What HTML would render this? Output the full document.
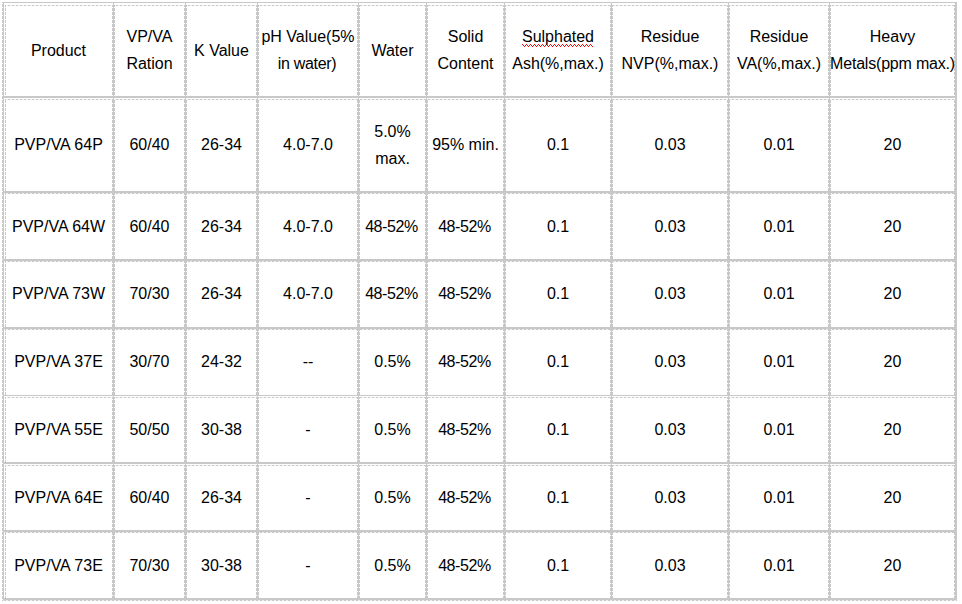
<!DOCTYPE html>
<html><head><meta charset="utf-8"><style>
html,body{margin:0;padding:0;background:#fff;}
body{width:962px;height:604px;position:relative;overflow:hidden;font-family:"Liberation Sans",sans-serif;font-size:16px;color:#000;}
.s{position:absolute;background:#c8c8c8;}
.dh{position:absolute;background:linear-gradient(90deg,#c8c8c8 0 2px,#eeeeee 2px 4px);background-size:4px 1px;background-position:-1px 0;}
.dv{position:absolute;background:linear-gradient(180deg,#c8c8c8 0 3px,transparent 3px 4px);background-size:1px 4px;background-position:0 -2px;}
.c{position:absolute;display:flex;align-items:center;justify-content:center;text-align:center;line-height:27px;white-space:nowrap;}
.sq{position:relative;}
.sq svg{position:absolute;left:0;top:0;}
</style></head><body>
<div class="dh" style="left:5px;top:5px;width:950px;height:1px"></div>
<div class="dh" style="left:5px;top:99px;width:950px;height:1px"></div>
<div class="dh" style="left:5px;top:193px;width:950px;height:1px"></div>
<div class="dh" style="left:5px;top:261px;width:950px;height:1px"></div>
<div class="dh" style="left:5px;top:329px;width:950px;height:1px"></div>
<div class="dh" style="left:5px;top:397px;width:950px;height:1px"></div>
<div class="dh" style="left:5px;top:465px;width:950px;height:1px"></div>
<div class="dh" style="left:5px;top:532px;width:950px;height:1px"></div>
<div class="dh" style="left:2px;top:600px;width:955px;height:1px;background-position:-2px 0"></div>
<div class="dv" style="left:5px;top:5px;width:1px;height:91px;background-position:0 3px"></div>
<div class="dv" style="left:112px;top:5px;width:1px;height:91px;background-position:0 3px"></div>
<div class="dv" style="left:114px;top:5px;width:1px;height:91px;background-position:0 3px"></div>
<div class="dv" style="left:184px;top:5px;width:1px;height:91px;background-position:0 3px"></div>
<div class="dv" style="left:186px;top:5px;width:1px;height:91px;background-position:0 3px"></div>
<div class="dv" style="left:256px;top:5px;width:1px;height:91px;background-position:0 3px"></div>
<div class="dv" style="left:258px;top:5px;width:1px;height:91px;background-position:0 3px"></div>
<div class="dv" style="left:357px;top:5px;width:1px;height:91px;background-position:0 3px"></div>
<div class="dv" style="left:359px;top:5px;width:1px;height:91px;background-position:0 3px"></div>
<div class="dv" style="left:425px;top:5px;width:1px;height:91px;background-position:0 3px"></div>
<div class="dv" style="left:427px;top:5px;width:1px;height:91px;background-position:0 3px"></div>
<div class="dv" style="left:503px;top:5px;width:1px;height:91px;background-position:0 3px"></div>
<div class="dv" style="left:505px;top:5px;width:1px;height:91px;background-position:0 3px"></div>
<div class="dv" style="left:610px;top:5px;width:1px;height:91px;background-position:0 3px"></div>
<div class="dv" style="left:612px;top:5px;width:1px;height:91px;background-position:0 3px"></div>
<div class="dv" style="left:727px;top:5px;width:1px;height:91px;background-position:0 3px"></div>
<div class="dv" style="left:729px;top:5px;width:1px;height:91px;background-position:0 3px"></div>
<div class="dv" style="left:828px;top:5px;width:1px;height:91px;background-position:0 3px"></div>
<div class="dv" style="left:830px;top:5px;width:1px;height:91px;background-position:0 3px"></div>
<div class="dv" style="left:954px;top:5px;width:1px;height:91px;background-position:0 3px"></div>
<div class="dv" style="left:5px;top:99px;width:1px;height:92px;background-position:0 1px"></div>
<div class="dv" style="left:112px;top:99px;width:1px;height:92px;background-position:0 1px"></div>
<div class="dv" style="left:114px;top:99px;width:1px;height:92px;background-position:0 1px"></div>
<div class="dv" style="left:184px;top:99px;width:1px;height:92px;background-position:0 1px"></div>
<div class="dv" style="left:186px;top:99px;width:1px;height:92px;background-position:0 1px"></div>
<div class="dv" style="left:256px;top:99px;width:1px;height:92px;background-position:0 1px"></div>
<div class="dv" style="left:258px;top:99px;width:1px;height:92px;background-position:0 1px"></div>
<div class="dv" style="left:357px;top:99px;width:1px;height:92px;background-position:0 1px"></div>
<div class="dv" style="left:359px;top:99px;width:1px;height:92px;background-position:0 1px"></div>
<div class="dv" style="left:425px;top:99px;width:1px;height:92px;background-position:0 1px"></div>
<div class="dv" style="left:427px;top:99px;width:1px;height:92px;background-position:0 1px"></div>
<div class="dv" style="left:503px;top:99px;width:1px;height:92px;background-position:0 1px"></div>
<div class="dv" style="left:505px;top:99px;width:1px;height:92px;background-position:0 1px"></div>
<div class="dv" style="left:610px;top:99px;width:1px;height:92px;background-position:0 1px"></div>
<div class="dv" style="left:612px;top:99px;width:1px;height:92px;background-position:0 1px"></div>
<div class="dv" style="left:727px;top:99px;width:1px;height:92px;background-position:0 1px"></div>
<div class="dv" style="left:729px;top:99px;width:1px;height:92px;background-position:0 1px"></div>
<div class="dv" style="left:828px;top:99px;width:1px;height:92px;background-position:0 1px"></div>
<div class="dv" style="left:830px;top:99px;width:1px;height:92px;background-position:0 1px"></div>
<div class="dv" style="left:954px;top:99px;width:1px;height:92px;background-position:0 1px"></div>
<div class="dv" style="left:5px;top:193px;width:1px;height:66px;background-position:0 3px"></div>
<div class="dv" style="left:112px;top:193px;width:1px;height:66px;background-position:0 3px"></div>
<div class="dv" style="left:114px;top:193px;width:1px;height:66px;background-position:0 3px"></div>
<div class="dv" style="left:184px;top:193px;width:1px;height:66px;background-position:0 3px"></div>
<div class="dv" style="left:186px;top:193px;width:1px;height:66px;background-position:0 3px"></div>
<div class="dv" style="left:256px;top:193px;width:1px;height:66px;background-position:0 3px"></div>
<div class="dv" style="left:258px;top:193px;width:1px;height:66px;background-position:0 3px"></div>
<div class="dv" style="left:357px;top:193px;width:1px;height:66px;background-position:0 3px"></div>
<div class="dv" style="left:359px;top:193px;width:1px;height:66px;background-position:0 3px"></div>
<div class="dv" style="left:425px;top:193px;width:1px;height:66px;background-position:0 3px"></div>
<div class="dv" style="left:427px;top:193px;width:1px;height:66px;background-position:0 3px"></div>
<div class="dv" style="left:503px;top:193px;width:1px;height:66px;background-position:0 3px"></div>
<div class="dv" style="left:505px;top:193px;width:1px;height:66px;background-position:0 3px"></div>
<div class="dv" style="left:610px;top:193px;width:1px;height:66px;background-position:0 3px"></div>
<div class="dv" style="left:612px;top:193px;width:1px;height:66px;background-position:0 3px"></div>
<div class="dv" style="left:727px;top:193px;width:1px;height:66px;background-position:0 3px"></div>
<div class="dv" style="left:729px;top:193px;width:1px;height:66px;background-position:0 3px"></div>
<div class="dv" style="left:828px;top:193px;width:1px;height:66px;background-position:0 3px"></div>
<div class="dv" style="left:830px;top:193px;width:1px;height:66px;background-position:0 3px"></div>
<div class="dv" style="left:954px;top:193px;width:1px;height:66px;background-position:0 3px"></div>
<div class="dv" style="left:5px;top:261px;width:1px;height:66px;background-position:0 3px"></div>
<div class="dv" style="left:112px;top:261px;width:1px;height:66px;background-position:0 3px"></div>
<div class="dv" style="left:114px;top:261px;width:1px;height:66px;background-position:0 3px"></div>
<div class="dv" style="left:184px;top:261px;width:1px;height:66px;background-position:0 3px"></div>
<div class="dv" style="left:186px;top:261px;width:1px;height:66px;background-position:0 3px"></div>
<div class="dv" style="left:256px;top:261px;width:1px;height:66px;background-position:0 3px"></div>
<div class="dv" style="left:258px;top:261px;width:1px;height:66px;background-position:0 3px"></div>
<div class="dv" style="left:357px;top:261px;width:1px;height:66px;background-position:0 3px"></div>
<div class="dv" style="left:359px;top:261px;width:1px;height:66px;background-position:0 3px"></div>
<div class="dv" style="left:425px;top:261px;width:1px;height:66px;background-position:0 3px"></div>
<div class="dv" style="left:427px;top:261px;width:1px;height:66px;background-position:0 3px"></div>
<div class="dv" style="left:503px;top:261px;width:1px;height:66px;background-position:0 3px"></div>
<div class="dv" style="left:505px;top:261px;width:1px;height:66px;background-position:0 3px"></div>
<div class="dv" style="left:610px;top:261px;width:1px;height:66px;background-position:0 3px"></div>
<div class="dv" style="left:612px;top:261px;width:1px;height:66px;background-position:0 3px"></div>
<div class="dv" style="left:727px;top:261px;width:1px;height:66px;background-position:0 3px"></div>
<div class="dv" style="left:729px;top:261px;width:1px;height:66px;background-position:0 3px"></div>
<div class="dv" style="left:828px;top:261px;width:1px;height:66px;background-position:0 3px"></div>
<div class="dv" style="left:830px;top:261px;width:1px;height:66px;background-position:0 3px"></div>
<div class="dv" style="left:954px;top:261px;width:1px;height:66px;background-position:0 3px"></div>
<div class="dv" style="left:5px;top:329px;width:1px;height:66px;background-position:0 3px"></div>
<div class="dv" style="left:112px;top:329px;width:1px;height:66px;background-position:0 3px"></div>
<div class="dv" style="left:114px;top:329px;width:1px;height:66px;background-position:0 3px"></div>
<div class="dv" style="left:184px;top:329px;width:1px;height:66px;background-position:0 3px"></div>
<div class="dv" style="left:186px;top:329px;width:1px;height:66px;background-position:0 3px"></div>
<div class="dv" style="left:256px;top:329px;width:1px;height:66px;background-position:0 3px"></div>
<div class="dv" style="left:258px;top:329px;width:1px;height:66px;background-position:0 3px"></div>
<div class="dv" style="left:357px;top:329px;width:1px;height:66px;background-position:0 3px"></div>
<div class="dv" style="left:359px;top:329px;width:1px;height:66px;background-position:0 3px"></div>
<div class="dv" style="left:425px;top:329px;width:1px;height:66px;background-position:0 3px"></div>
<div class="dv" style="left:427px;top:329px;width:1px;height:66px;background-position:0 3px"></div>
<div class="dv" style="left:503px;top:329px;width:1px;height:66px;background-position:0 3px"></div>
<div class="dv" style="left:505px;top:329px;width:1px;height:66px;background-position:0 3px"></div>
<div class="dv" style="left:610px;top:329px;width:1px;height:66px;background-position:0 3px"></div>
<div class="dv" style="left:612px;top:329px;width:1px;height:66px;background-position:0 3px"></div>
<div class="dv" style="left:727px;top:329px;width:1px;height:66px;background-position:0 3px"></div>
<div class="dv" style="left:729px;top:329px;width:1px;height:66px;background-position:0 3px"></div>
<div class="dv" style="left:828px;top:329px;width:1px;height:66px;background-position:0 3px"></div>
<div class="dv" style="left:830px;top:329px;width:1px;height:66px;background-position:0 3px"></div>
<div class="dv" style="left:954px;top:329px;width:1px;height:66px;background-position:0 3px"></div>
<div class="dv" style="left:5px;top:397px;width:1px;height:65px;background-position:0 3px"></div>
<div class="dv" style="left:112px;top:397px;width:1px;height:65px;background-position:0 3px"></div>
<div class="dv" style="left:114px;top:397px;width:1px;height:65px;background-position:0 3px"></div>
<div class="dv" style="left:184px;top:397px;width:1px;height:65px;background-position:0 3px"></div>
<div class="dv" style="left:186px;top:397px;width:1px;height:65px;background-position:0 3px"></div>
<div class="dv" style="left:256px;top:397px;width:1px;height:65px;background-position:0 3px"></div>
<div class="dv" style="left:258px;top:397px;width:1px;height:65px;background-position:0 3px"></div>
<div class="dv" style="left:357px;top:397px;width:1px;height:65px;background-position:0 3px"></div>
<div class="dv" style="left:359px;top:397px;width:1px;height:65px;background-position:0 3px"></div>
<div class="dv" style="left:425px;top:397px;width:1px;height:65px;background-position:0 3px"></div>
<div class="dv" style="left:427px;top:397px;width:1px;height:65px;background-position:0 3px"></div>
<div class="dv" style="left:503px;top:397px;width:1px;height:65px;background-position:0 3px"></div>
<div class="dv" style="left:505px;top:397px;width:1px;height:65px;background-position:0 3px"></div>
<div class="dv" style="left:610px;top:397px;width:1px;height:65px;background-position:0 3px"></div>
<div class="dv" style="left:612px;top:397px;width:1px;height:65px;background-position:0 3px"></div>
<div class="dv" style="left:727px;top:397px;width:1px;height:65px;background-position:0 3px"></div>
<div class="dv" style="left:729px;top:397px;width:1px;height:65px;background-position:0 3px"></div>
<div class="dv" style="left:828px;top:397px;width:1px;height:65px;background-position:0 3px"></div>
<div class="dv" style="left:830px;top:397px;width:1px;height:65px;background-position:0 3px"></div>
<div class="dv" style="left:954px;top:397px;width:1px;height:65px;background-position:0 3px"></div>
<div class="dv" style="left:5px;top:465px;width:1px;height:65px;background-position:0 3px"></div>
<div class="dv" style="left:112px;top:465px;width:1px;height:65px;background-position:0 3px"></div>
<div class="dv" style="left:114px;top:465px;width:1px;height:65px;background-position:0 3px"></div>
<div class="dv" style="left:184px;top:465px;width:1px;height:65px;background-position:0 3px"></div>
<div class="dv" style="left:186px;top:465px;width:1px;height:65px;background-position:0 3px"></div>
<div class="dv" style="left:256px;top:465px;width:1px;height:65px;background-position:0 3px"></div>
<div class="dv" style="left:258px;top:465px;width:1px;height:65px;background-position:0 3px"></div>
<div class="dv" style="left:357px;top:465px;width:1px;height:65px;background-position:0 3px"></div>
<div class="dv" style="left:359px;top:465px;width:1px;height:65px;background-position:0 3px"></div>
<div class="dv" style="left:425px;top:465px;width:1px;height:65px;background-position:0 3px"></div>
<div class="dv" style="left:427px;top:465px;width:1px;height:65px;background-position:0 3px"></div>
<div class="dv" style="left:503px;top:465px;width:1px;height:65px;background-position:0 3px"></div>
<div class="dv" style="left:505px;top:465px;width:1px;height:65px;background-position:0 3px"></div>
<div class="dv" style="left:610px;top:465px;width:1px;height:65px;background-position:0 3px"></div>
<div class="dv" style="left:612px;top:465px;width:1px;height:65px;background-position:0 3px"></div>
<div class="dv" style="left:727px;top:465px;width:1px;height:65px;background-position:0 3px"></div>
<div class="dv" style="left:729px;top:465px;width:1px;height:65px;background-position:0 3px"></div>
<div class="dv" style="left:828px;top:465px;width:1px;height:65px;background-position:0 3px"></div>
<div class="dv" style="left:830px;top:465px;width:1px;height:65px;background-position:0 3px"></div>
<div class="dv" style="left:954px;top:465px;width:1px;height:65px;background-position:0 3px"></div>
<div class="dv" style="left:5px;top:532px;width:1px;height:66px;background-position:0 0px"></div>
<div class="dv" style="left:112px;top:532px;width:1px;height:66px;background-position:0 0px"></div>
<div class="dv" style="left:114px;top:532px;width:1px;height:66px;background-position:0 0px"></div>
<div class="dv" style="left:184px;top:532px;width:1px;height:66px;background-position:0 0px"></div>
<div class="dv" style="left:186px;top:532px;width:1px;height:66px;background-position:0 0px"></div>
<div class="dv" style="left:256px;top:532px;width:1px;height:66px;background-position:0 0px"></div>
<div class="dv" style="left:258px;top:532px;width:1px;height:66px;background-position:0 0px"></div>
<div class="dv" style="left:357px;top:532px;width:1px;height:66px;background-position:0 0px"></div>
<div class="dv" style="left:359px;top:532px;width:1px;height:66px;background-position:0 0px"></div>
<div class="dv" style="left:425px;top:532px;width:1px;height:66px;background-position:0 0px"></div>
<div class="dv" style="left:427px;top:532px;width:1px;height:66px;background-position:0 0px"></div>
<div class="dv" style="left:503px;top:532px;width:1px;height:66px;background-position:0 0px"></div>
<div class="dv" style="left:505px;top:532px;width:1px;height:66px;background-position:0 0px"></div>
<div class="dv" style="left:610px;top:532px;width:1px;height:66px;background-position:0 0px"></div>
<div class="dv" style="left:612px;top:532px;width:1px;height:66px;background-position:0 0px"></div>
<div class="dv" style="left:727px;top:532px;width:1px;height:66px;background-position:0 0px"></div>
<div class="dv" style="left:729px;top:532px;width:1px;height:66px;background-position:0 0px"></div>
<div class="dv" style="left:828px;top:532px;width:1px;height:66px;background-position:0 0px"></div>
<div class="dv" style="left:830px;top:532px;width:1px;height:66px;background-position:0 0px"></div>
<div class="dv" style="left:954px;top:532px;width:1px;height:66px;background-position:0 0px"></div>
<div class="dv" style="left:2px;top:4px;width:1px;height:597px;background-position:0 0"></div>
<div class="s" style="left:2px;top:2px;width:955px;height:1px"></div>
<div class="s" style="left:3px;top:96px;width:954px;height:2px"></div>
<div class="s" style="left:3px;top:191px;width:954px;height:2px"></div>
<div class="s" style="left:3px;top:259px;width:954px;height:2px"></div>
<div class="s" style="left:3px;top:327px;width:954px;height:2px"></div>
<div class="s" style="left:3px;top:395px;width:954px;height:1px"></div>
<div class="s" style="left:3px;top:462px;width:954px;height:2px"></div>
<div class="s" style="left:3px;top:530px;width:954px;height:2px"></div>
<div class="s" style="left:3px;top:598px;width:954px;height:2px"></div>
<div class="s" style="left:3px;top:2px;width:1px;height:598px"></div>
<div class="s" style="left:113px;top:2px;width:1px;height:598px"></div>
<div class="s" style="left:185px;top:2px;width:1px;height:598px"></div>
<div class="s" style="left:257px;top:2px;width:1px;height:598px"></div>
<div class="s" style="left:358px;top:2px;width:1px;height:598px"></div>
<div class="s" style="left:426px;top:2px;width:1px;height:598px"></div>
<div class="s" style="left:504px;top:2px;width:1px;height:598px"></div>
<div class="s" style="left:611px;top:2px;width:1px;height:598px"></div>
<div class="s" style="left:728px;top:2px;width:1px;height:598px"></div>
<div class="s" style="left:829px;top:2px;width:1px;height:598px"></div>
<div class="s" style="left:955px;top:2px;width:2px;height:598px"></div>
<svg style="position:absolute;left:522px;top:44px" width="71" height="3" viewBox="0 0 71 3" shape-rendering="crispEdges"><path fill="#ff0000" d="M0 0h1v1h-1zM1 1h1v1h-1zM2 2h1v1h-1zM3 1h1v1h-1zM4 0h1v1h-1zM5 1h1v1h-1zM6 2h1v1h-1zM7 1h1v1h-1zM8 0h1v1h-1zM9 1h1v1h-1zM10 2h1v1h-1zM11 1h1v1h-1zM12 0h1v1h-1zM13 1h1v1h-1zM14 2h1v1h-1zM15 1h1v1h-1zM16 0h1v1h-1zM17 1h1v1h-1zM18 2h1v1h-1zM19 1h1v1h-1zM20 0h1v1h-1zM21 1h1v1h-1zM22 2h1v1h-1zM23 1h1v1h-1zM24 0h1v1h-1zM25 1h1v1h-1zM26 2h1v1h-1zM27 1h1v1h-1zM28 0h1v1h-1zM29 1h1v1h-1zM30 2h1v1h-1zM31 1h1v1h-1zM32 0h1v1h-1zM33 1h1v1h-1zM34 2h1v1h-1zM35 1h1v1h-1zM36 0h1v1h-1zM37 1h1v1h-1zM38 2h1v1h-1zM39 1h1v1h-1zM40 0h1v1h-1zM41 1h1v1h-1zM42 2h1v1h-1zM43 1h1v1h-1zM44 0h1v1h-1zM45 1h1v1h-1zM46 2h1v1h-1zM47 1h1v1h-1zM48 0h1v1h-1zM49 1h1v1h-1zM50 2h1v1h-1zM51 1h1v1h-1zM52 0h1v1h-1zM53 1h1v1h-1zM54 2h1v1h-1zM55 1h1v1h-1zM56 0h1v1h-1zM57 1h1v1h-1zM58 2h1v1h-1zM59 1h1v1h-1zM60 0h1v1h-1zM61 1h1v1h-1zM62 2h1v1h-1zM63 1h1v1h-1zM64 0h1v1h-1zM65 1h1v1h-1zM66 2h1v1h-1zM67 1h1v1h-1zM68 0h1v1h-1zM69 1h1v1h-1zM70 2h1v1h-1z"/></svg>
<div class="c" style="left:4px;top:3px;width:109px;height:94px"><div>Product</div></div>
<div class="c" style="left:114px;top:3px;width:71px;height:94px"><div>VP/VA<br>Ration</div></div>
<div class="c" style="left:186px;top:3px;width:71px;height:94px"><div>K Value</div></div>
<div class="c" style="left:258px;top:3px;width:100px;height:94px"><div>pH Value(5%<br><span style="letter-spacing:-0.3px;position:relative;left:-1px">in water)</span></div></div>
<div class="c" style="left:359px;top:3px;width:67px;height:94px"><div>Water</div></div>
<div class="c" style="left:427px;top:3px;width:77px;height:94px"><div>Solid<br>Content</div></div>
<div class="c" style="left:505px;top:3px;width:106px;height:94px"><div><span class=sq>Sulphated</span><br>Ash(%,max.)</div></div>
<div class="c" style="left:612px;top:3px;width:116px;height:94px"><div>Residue<br>NVP(%,max.)</div></div>
<div class="c" style="left:729px;top:3px;width:100px;height:94px"><div>Residue<br>VA(%,max.)</div></div>
<div class="c" style="left:830px;top:3px;width:125px;height:94px"><div>Heavy<br><span style="letter-spacing:-0.2px">Metals(ppm max.)</span></div></div>
<div class="c" style="left:4px;top:98px;width:109px;height:93px"><div>PVP/VA 64P</div></div>
<div class="c" style="left:114px;top:98px;width:71px;height:93px"><div>60/40</div></div>
<div class="c" style="left:186px;top:98px;width:71px;height:93px"><div>26-34</div></div>
<div class="c" style="left:258px;top:98px;width:100px;height:93px"><div>4.0-7.0</div></div>
<div class="c" style="left:359px;top:98px;width:67px;height:93px"><div>5.0%<br>max.</div></div>
<div class="c" style="left:427px;top:98px;width:77px;height:93px"><div>95% min.</div></div>
<div class="c" style="left:505px;top:98px;width:106px;height:93px"><div>0.1</div></div>
<div class="c" style="left:612px;top:98px;width:116px;height:93px"><div>0.03</div></div>
<div class="c" style="left:729px;top:98px;width:100px;height:93px"><div>0.01</div></div>
<div class="c" style="left:830px;top:98px;width:125px;height:93px"><div>20</div></div>
<div class="c" style="left:4px;top:193px;width:109px;height:67px"><div>PVP/VA 64W</div></div>
<div class="c" style="left:114px;top:193px;width:71px;height:67px"><div>60/40</div></div>
<div class="c" style="left:186px;top:193px;width:71px;height:67px"><div>26-34</div></div>
<div class="c" style="left:258px;top:193px;width:100px;height:67px"><div>4.0-7.0</div></div>
<div class="c" style="left:359px;top:193px;width:67px;height:67px"><div style="letter-spacing:-0.4px;position:relative;left:-1px">48-52%</div></div>
<div class="c" style="left:427px;top:193px;width:77px;height:67px"><div style="letter-spacing:-0.4px;position:relative;left:-1px">48-52%</div></div>
<div class="c" style="left:505px;top:193px;width:106px;height:67px"><div>0.1</div></div>
<div class="c" style="left:612px;top:193px;width:116px;height:67px"><div>0.03</div></div>
<div class="c" style="left:729px;top:193px;width:100px;height:67px"><div>0.01</div></div>
<div class="c" style="left:830px;top:193px;width:125px;height:67px"><div>20</div></div>
<div class="c" style="left:4px;top:260px;width:109px;height:67px"><div>PVP/VA 73W</div></div>
<div class="c" style="left:114px;top:260px;width:71px;height:67px"><div>70/30</div></div>
<div class="c" style="left:186px;top:260px;width:71px;height:67px"><div>26-34</div></div>
<div class="c" style="left:258px;top:260px;width:100px;height:67px"><div>4.0-7.0</div></div>
<div class="c" style="left:359px;top:260px;width:67px;height:67px"><div style="letter-spacing:-0.4px;position:relative;left:-1px">48-52%</div></div>
<div class="c" style="left:427px;top:260px;width:77px;height:67px"><div style="letter-spacing:-0.4px;position:relative;left:-1px">48-52%</div></div>
<div class="c" style="left:505px;top:260px;width:106px;height:67px"><div>0.1</div></div>
<div class="c" style="left:612px;top:260px;width:116px;height:67px"><div>0.03</div></div>
<div class="c" style="left:729px;top:260px;width:100px;height:67px"><div>0.01</div></div>
<div class="c" style="left:830px;top:260px;width:125px;height:67px"><div>20</div></div>
<div class="c" style="left:4px;top:328px;width:109px;height:67px"><div>PVP/VA 37E</div></div>
<div class="c" style="left:114px;top:328px;width:71px;height:67px"><div>30/70</div></div>
<div class="c" style="left:186px;top:328px;width:71px;height:67px"><div>24-32</div></div>
<div class="c" style="left:258px;top:328px;width:100px;height:67px"><div>--</div></div>
<div class="c" style="left:359px;top:328px;width:67px;height:67px"><div>0.5%</div></div>
<div class="c" style="left:427px;top:328px;width:77px;height:67px"><div style="letter-spacing:-0.4px;position:relative;left:-1px">48-52%</div></div>
<div class="c" style="left:505px;top:328px;width:106px;height:67px"><div>0.1</div></div>
<div class="c" style="left:612px;top:328px;width:116px;height:67px"><div>0.03</div></div>
<div class="c" style="left:729px;top:328px;width:100px;height:67px"><div>0.01</div></div>
<div class="c" style="left:830px;top:328px;width:125px;height:67px"><div>20</div></div>
<div class="c" style="left:4px;top:396px;width:109px;height:67px"><div>PVP/VA 55E</div></div>
<div class="c" style="left:114px;top:396px;width:71px;height:67px"><div>50/50</div></div>
<div class="c" style="left:186px;top:396px;width:71px;height:67px"><div>30-38</div></div>
<div class="c" style="left:258px;top:396px;width:100px;height:67px"><div>-</div></div>
<div class="c" style="left:359px;top:396px;width:67px;height:67px"><div>0.5%</div></div>
<div class="c" style="left:427px;top:396px;width:77px;height:67px"><div style="letter-spacing:-0.4px;position:relative;left:-1px">48-52%</div></div>
<div class="c" style="left:505px;top:396px;width:106px;height:67px"><div>0.1</div></div>
<div class="c" style="left:612px;top:396px;width:116px;height:67px"><div>0.03</div></div>
<div class="c" style="left:729px;top:396px;width:100px;height:67px"><div>0.01</div></div>
<div class="c" style="left:830px;top:396px;width:125px;height:67px"><div>20</div></div>
<div class="c" style="left:4px;top:464px;width:109px;height:67px"><div>PVP/VA 64E</div></div>
<div class="c" style="left:114px;top:464px;width:71px;height:67px"><div>60/40</div></div>
<div class="c" style="left:186px;top:464px;width:71px;height:67px"><div>26-34</div></div>
<div class="c" style="left:258px;top:464px;width:100px;height:67px"><div>-</div></div>
<div class="c" style="left:359px;top:464px;width:67px;height:67px"><div>0.5%</div></div>
<div class="c" style="left:427px;top:464px;width:77px;height:67px"><div style="letter-spacing:-0.4px;position:relative;left:-1px">48-52%</div></div>
<div class="c" style="left:505px;top:464px;width:106px;height:67px"><div>0.1</div></div>
<div class="c" style="left:612px;top:464px;width:116px;height:67px"><div>0.03</div></div>
<div class="c" style="left:729px;top:464px;width:100px;height:67px"><div>0.01</div></div>
<div class="c" style="left:830px;top:464px;width:125px;height:67px"><div>20</div></div>
<div class="c" style="left:4px;top:532px;width:109px;height:66px"><div>PVP/VA 73E</div></div>
<div class="c" style="left:114px;top:532px;width:71px;height:66px"><div>70/30</div></div>
<div class="c" style="left:186px;top:532px;width:71px;height:66px"><div>30-38</div></div>
<div class="c" style="left:258px;top:532px;width:100px;height:66px"><div>-</div></div>
<div class="c" style="left:359px;top:532px;width:67px;height:66px"><div>0.5%</div></div>
<div class="c" style="left:427px;top:532px;width:77px;height:66px"><div style="letter-spacing:-0.4px;position:relative;left:-1px">48-52%</div></div>
<div class="c" style="left:505px;top:532px;width:106px;height:66px"><div>0.1</div></div>
<div class="c" style="left:612px;top:532px;width:116px;height:66px"><div>0.03</div></div>
<div class="c" style="left:729px;top:532px;width:100px;height:66px"><div>0.01</div></div>
<div class="c" style="left:830px;top:532px;width:125px;height:66px"><div>20</div></div>
</body></html>
